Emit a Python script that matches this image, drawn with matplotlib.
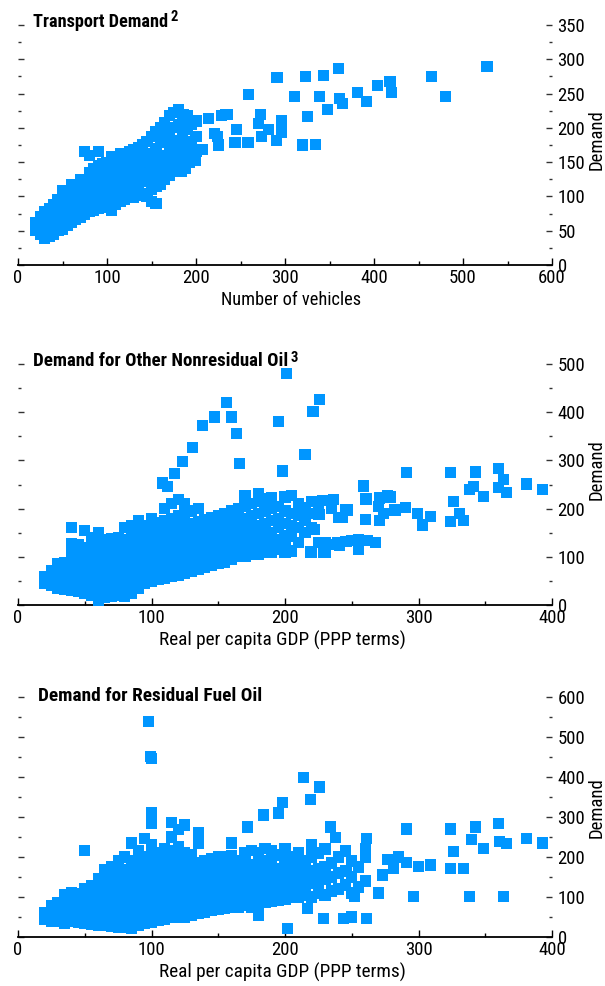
import matplotlib
matplotlib.use('Agg')
import matplotlib.pyplot as plt
from matplotlib.ticker import MultipleLocator
from matplotlib import font_manager
from matplotlib.font_manager import FontProperties

# ---- pick a narrow/condensed face if one is installed, else Roboto ----------
def pick_font(bold):
    want = 700 if bold else 400
    best = None
    for pri, key in enumerate(['liberation sans narrow', 'roboto condensed', 'arial narrow',
                               'open sans condensed', 'noto sans condensed']):
        for f in font_manager.fontManager.ttflist:
            name = f.name.lower()
            style = str(f.style).lower()
            if key in name and style == 'normal':
                w = f.weight if isinstance(f.weight, int) else (700 if 'bold' in str(f.weight) else 400)
                d = abs(w - want)
                if best is None or (pri, d) < best[0]:
                    best = ((pri, d), f.fname)
        if best is not None:
            break
    if best is None:
        for f in font_manager.fontManager.ttflist:
            st = str(f.stretch).lower()
            if f.name == 'DejaVu Sans' and 'condensed' in st and str(f.style) == 'normal':
                w = f.weight if isinstance(f.weight, int) else (700 if 'bold' in str(f.weight) else 400)
                d = abs(w - want)
                if best is None or d < best[0][1]:
                    best = ((0, d), f.fname)
    if best is not None:
        return FontProperties(fname=best[1])
    return FontProperties(family=['Roboto', 'DejaVu Sans'], weight='bold' if bold else 'normal')

FP_REG = pick_font(False)
FP_BOLD = pick_font(True)

COLOR = '#0096FF'

# ---------------- Panel 1: Transport demand vs number of vehicles -------------
p1_band = [
    (20, [50, 62]), (25, [45, 58, 70]), (30, [38, 50, 64, 78]), (35, [42, 55, 68, 82]),
    (40, [45, 58, 72, 88]), (45, [50, 64, 78, 95]), (50, [52, 66, 80, 96, 108]),
    (55, [58, 72, 86, 100]), (60, [62, 76, 90, 104, 118]), (65, [66, 80, 94, 110]),
    (70, [70, 84, 98, 112, 125]), (75, [74, 88, 102, 118, 166]),
    (80, [78, 92, 106, 120, 135, 160]), (85, [80, 96, 110, 124, 140]),
    (90, [82, 98, 114, 128, 145, 165]), (95, [84, 100, 116, 130, 148]),
    (100, [86, 102, 118, 134, 150]), (105, [80, 95, 110, 126, 142, 158]),
    (110, [88, 104, 120, 136, 152]), (115, [92, 108, 124, 140, 156, 162]),
    (120, [96, 112, 128, 144, 160]), (125, [100, 115, 130, 146, 165]),
    (130, [98, 118, 134, 150, 168]), (135, [102, 120, 136, 152, 172]),
    (140, [104, 122, 138, 156, 176]), (145, [100, 124, 140, 160, 180]),
    (150, [92, 110, 128, 145, 163, 188]), (155, [90, 115, 132, 150, 170, 195]),
    (160, [118, 136, 155, 178, 200]), (165, [125, 142, 160, 185, 208]),
    (170, [130, 148, 168, 192, 218]), (175, [136, 154, 175, 200, 222]),
    (180, [140, 160, 182, 205, 226]), (185, [146, 168, 190, 212]),
    (190, [152, 175, 198, 218]), (195, [158, 180, 205]), (200, [165, 188, 210]),
]
p1_scatter = [
    (291, 274), (323, 275), (343, 277), (360, 286), (527, 290), (465, 275), (480, 246),
    (259, 248), (311, 246), (339, 246), (361, 243), (365, 236), (348, 227), (381, 251),
    (392, 239), (404, 262), (418, 267), (420, 251), (325, 216), (320, 175), (334, 176),
    (272, 220), (270, 207), (296, 210), (281, 197), (296, 194), (274, 188), (290, 182),
    (259, 178), (243, 178), (246, 197), (235, 219), (229, 218), (214, 213), (224, 187),
    (225, 175), (207, 169), (193, 163), (193, 150), (188, 141), (184, 136), (186, 219),
    (233, 219), (221, 192), (244, 178), (258, 178), (199, 153), (207, 168),
]

# ---------------- Panel 2: Other nonresidual oil vs GDP -----------------------
p2_band = [
    (20, [45, 60]), (25, [40, 58, 72]), (30, [35, 52, 70, 85]), (35, [32, 50, 68, 88]),
    (40, [30, 48, 66, 86, 105, 128, 160]), (45, [28, 45, 64, 84, 104, 125]),
    (50, [25, 44, 62, 82, 100, 120, 155]), (55, [20, 40, 60, 80, 100, 120, 140]),
    (60, [10, 30, 50, 70, 90, 110, 130, 150]), (65, [15, 35, 55, 75, 95, 115, 135]),
    (70, [18, 38, 58, 78, 98, 118, 138]), (75, [20, 40, 60, 80, 100, 120, 130, 140]),
    (80, [17, 36, 56, 76, 96, 116, 136, 160]), (85, [25, 45, 65, 85, 105, 125, 145, 165]),
    (90, [35, 55, 75, 95, 115, 135, 155, 175]), (95, [45, 65, 85, 105, 125, 145, 165]),
    (100, [48, 68, 88, 108, 128, 148, 168, 180]), (105, [52, 72, 92, 112, 132, 152, 172]),
    (110, [55, 75, 95, 115, 135, 155, 175, 200]), (115, [60, 80, 100, 120, 140, 160, 180, 210]),
    (120, [62, 82, 102, 122, 142, 162, 185, 218]), (125, [66, 86, 106, 126, 146, 166, 190, 210]),
    (130, [70, 90, 110, 130, 150, 170, 195]), (135, [73, 93, 113, 133, 153, 173, 200]),
    (140, [78, 98, 118, 138, 158, 178]), (145, [82, 102, 122, 142, 162, 182]),
    (150, [86, 106, 126, 146, 166, 186]), (155, [89, 110, 130, 150, 170, 190]),
    (160, [95, 115, 135, 155, 175, 195]), (165, [100, 120, 140, 160, 180, 200]),
    (170, [100, 120, 140, 160, 180, 205, 228]), (175, [105, 125, 145, 165, 185, 210]),
    (180, [105, 125, 145, 165, 190, 215, 232]), (185, [110, 130, 150, 170, 195, 220]),
    (190, [110, 130, 150, 175, 200, 222]), (195, [115, 135, 160, 180, 205]),
    (200, [108, 125, 145, 170, 195, 224]), (205, [112, 143, 165, 190, 228]),
    (210, [130, 160, 185, 210]), (215, [150, 175, 195]), (220, [110, 160, 190, 215]),
    (225, [130, 187, 205]), (230, [110, 129, 216]), (235, [125, 200]), (240, [129, 182]),
    (245, [131, 197]), (250, [133]), (255, [116]), (260, [133, 178, 220]),
]
p2_scatter = [
    (201, 481), (226, 427), (221, 402), (195, 380), (156, 421), (147, 390), (160, 390),
    (138, 373), (164, 355), (131, 326), (123, 297), (166, 293), (215, 313), (198, 278),
    (117, 272), (108, 253), (112, 245), (259, 247), (261, 220), (271, 222), (279, 224),
    (270, 205), (283, 197), (274, 189), (247, 197), (243, 181), (236, 218), (228, 216),
    (226, 187), (222, 156), (204, 143), (219, 110), (229, 129), (239, 129), (246, 131),
    (262, 133), (255, 116), (229, 110), (204, 112), (213, 203), (277, 228), (282, 197),
    (271, 176), (290, 203), (299, 189), (309, 183), (303, 166), (331, 189), (291, 274),
    (324, 274), (343, 276), (360, 284), (381, 251), (393, 239), (364, 261), (366, 234),
    (360, 243), (349, 226), (341, 245), (338, 239), (326, 214), (334, 176), (324, 174),
    (241, 124), (255, 135), (268, 130),
]

# ---------------- Panel 3: Residual fuel oil vs GDP ---------------------------
p3_band = [
    (20, [45, 60]), (25, [40, 62, 78]), (30, [38, 60, 85]), (35, [35, 58, 82, 105]),
    (40, [38, 62, 86, 110]), (45, [36, 60, 84, 108]), (50, [35, 58, 82, 106, 120, 217]),
    (55, [32, 56, 80, 104, 128]), (60, [30, 54, 78, 102, 126, 145]),
    (65, [28, 52, 76, 100, 124, 148, 168]), (70, [27, 50, 75, 100, 125, 150, 175]),
    (75, [25, 50, 75, 100, 125, 150, 175, 192]), (80, [24, 48, 72, 96, 120, 144, 168, 200]),
    (85, [22, 46, 70, 94, 118, 142, 166, 190, 235]),
    (90, [30, 54, 78, 102, 126, 150, 174, 198, 215]),
    (95, [34, 58, 82, 106, 130, 154, 178, 202, 247]),
    (100, [37, 60, 84, 108, 132, 156, 180, 205, 230, 285, 312]),
    (105, [42, 66, 90, 114, 138, 162, 186, 210]),
    (110, [45, 70, 95, 120, 145, 170, 195, 220]),
    (115, [48, 72, 96, 120, 144, 168, 192, 216, 250, 287]),
    (120, [50, 75, 100, 125, 150, 175, 200, 225, 268]),
    (125, [50, 75, 100, 125, 150, 175, 200, 212, 280]),
    (130, [55, 80, 105, 130, 155, 180, 205]), (135, [60, 85, 110, 135, 160, 185, 235, 262]),
    (140, [62, 88, 114, 140, 166, 192]), (145, [67, 92, 118, 144, 170, 196]),
    (150, [70, 96, 122, 148, 174, 200]), (155, [72, 98, 124, 150, 176, 200]),
    (160, [74, 100, 126, 152, 178, 204, 235]), (165, [75, 100, 126, 152, 178, 192]),
    (170, [78, 104, 130, 156, 182, 210]), (175, [75, 100, 128, 155, 180, 217]),
    (180, [55, 85, 110, 135, 160, 185, 210]), (185, [87, 112, 138, 164, 190, 222]),
    (190, [90, 115, 140, 165, 190, 215]), (195, [92, 118, 144, 170, 205]),
    (200, [95, 120, 145, 170, 195, 220]), (205, [100, 125, 150, 175, 200]),
    (210, [100, 128, 155, 180, 210]), (215, [105, 130, 160, 190]),
    (220, [100, 135, 165, 200, 230]), (225, [110, 140, 170, 210]),
    (230, [105, 145, 175, 220]), (235, [115, 150, 185]), (240, [120, 160, 200]),
    (245, [130, 165, 215]), (250, [110, 150, 190]), (255, [125, 175]),
    (260, [140, 200, 220]),
]
p3_scatter = [
    (98, 538), (100, 447), (99, 452), (172, 275), (184, 305), (195, 310), (198, 337),
    (214, 398), (226, 375), (219, 343), (202, 22), (324, 270), (343, 275), (360, 283),
    (381, 247), (393, 235), (340, 243), (349, 222), (361, 238), (366, 233), (326, 213),
    (334, 172), (324, 172), (338, 102), (364, 102), (296, 102), (252, 102), (291, 270),
    (277, 193), (281, 172), (273, 155), (291, 187), (300, 177), (309, 180), (229, 47),
    (244, 47), (250, 50), (261, 47), (217, 72), (245, 130), (230, 105), (261, 247),
    (246, 165), (238, 248), (234, 275), (270, 110), (285, 200),
]

PANELS = [
    dict(band=p1_band, scatter=p1_scatter, xmax=600, ymax=350, ymaj=50, ymin=25,
         title='Transport Demand', sup='2', xlabel='Number of vehicles',
         rect=[18, 25, 552, 265], title_xy=(33, 27), title_w=135, sup_base=21,
         ylab_y=140, xlab_xy=(291, 300), xlab_w=140),
    dict(band=p2_band, scatter=p2_scatter, xmax=400, ymax=500, ymaj=100, ymin=50,
         title='Demand for Other Nonresidual Oil', sup='3', xlabel='Real per capita GDP (PPP terms)',
         rect=[18, 364, 552, 605], title_xy=(33, 366), title_w=254, sup_base=362,
         ylab_y=470, xlab_xy=(282, 640), xlab_w=247),
    dict(band=p3_band, scatter=p3_scatter, xmax=400, ymax=600, ymaj=100, ymin=50,
         title='Demand for Residual Fuel Oil', sup='', xlabel='Real per capita GDP (PPP terms)',
         rect=[18, 697, 552, 937], title_xy=(38, 701), title_w=224, sup_base=None,
         ylab_y=808, xlab_xy=(282, 972), xlab_w=247),
]

W, H = 605, 986
fig = plt.figure(figsize=(W / 100, H / 100), dpi=100)
renderer = fig.canvas.get_renderer()

def fitted_text(x, y, s, fp, size, target_w, **kw):
    t = fig.text(x / W, 1 - y / H, s, fontproperties=fp, fontsize=size, **kw)
    w = t.get_window_extent(renderer).width
    if target_w and w > 0:
        t.set_fontsize(min(max(size * target_w / w, size * 0.8), size * 1.25))
    return t

for p in PANELS:
    l, t, r, b = p['rect']
    ax = fig.add_axes([l / W, 1 - b / H, (r - l) / W, (b - t) / H])
    xs, ys = [], []
    for x, col in p['band']:
        for y in col:
            xs.append(x)
            ys.append(y)
    for x, y in p['scatter']:
        xs.append(x)
        ys.append(y)
    ax.scatter(xs, ys, marker='s', s=64, color=COLOR, edgecolors='none', clip_on=False, zorder=3)
    ax.set_xlim(0, p['xmax'])
    ax.set_ylim(0, p['ymax'])
    ax.xaxis.set_major_locator(MultipleLocator(100))
    ax.xaxis.set_minor_locator(MultipleLocator(50))
    ax.yaxis.set_major_locator(MultipleLocator(p['ymaj']))
    ax.yaxis.set_minor_locator(MultipleLocator(p['ymin']))
    for s in ['top', 'left', 'right']:
        ax.spines[s].set_visible(False)
    ax.spines['bottom'].set_linewidth(1.3)
    ax.tick_params(axis='y', which='both', left=True, right=True, labelleft=False,
                   labelright=True, direction='in', pad=4, color='#333333')
    ax.tick_params(axis='y', which='major', length=4, width=1.0)
    ax.tick_params(axis='y', which='minor', length=2, width=1.0)
    ax.tick_params(axis='x', which='both', direction='in', pad=3)
    ax.tick_params(axis='x', which='major', length=5, width=1.0)
    ax.tick_params(axis='x', which='minor', length=3, width=1.0)
    for lab in ax.get_xticklabels() + ax.get_yticklabels():
        lab.set_fontproperties(FP_REG)
        lab.set_fontsize(13.5)
    ax.patch.set_alpha(0)

    tx, ty = p['title_xy']
    tt = fitted_text(tx, ty, p['title'], FP_BOLD, 13, p['title_w'], va='baseline', ha='left')
    if p['sup']:
        ext = tt.get_window_extent(renderer)
        sx = ext.x1 + 2
        fig.text(sx / W, 1 - p['sup_base'] / H, p['sup'], fontproperties=FP_BOLD,
                 fontsize=10.5, va='baseline', ha='left')
    fig.text(597 / W, 1 - p['ylab_y'] / H, 'Demand', rotation=90, fontproperties=FP_REG,
             fontsize=13.5, ha='center', va='center')
    xx, xy = p['xlab_xy']
    fitted_text(xx, xy, p['xlabel'], FP_REG, 13.5, p['xlab_w'], ha='center', va='center')

fig.savefig('out.png', dpi=100)
